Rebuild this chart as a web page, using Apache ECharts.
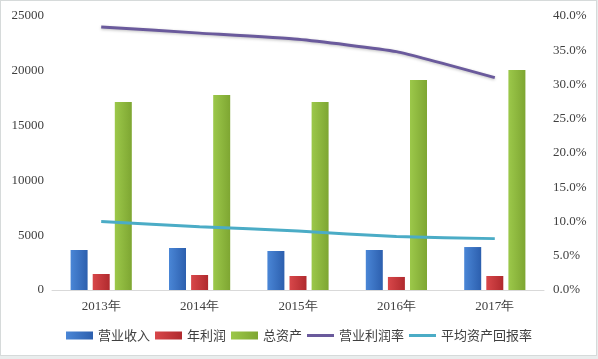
<!DOCTYPE html>
<html><head><meta charset="utf-8">
<script src="https://cdn.jsdelivr.net/npm/echarts@6/dist/echarts.min.js"></script>
<style>
html,body{margin:0;padding:0;background:#e9eded;}
#wrap{position:absolute;left:0;top:0;width:595px;height:354px;background:#fff;border:1px solid #d6dada;}
#c{width:598px;height:359px;position:absolute;left:-1px;top:-1px;}
</style></head>
<body><div id="wrap"><div id="c"></div></div>
<script>
const categories = ['2013年','2014年','2015年','2016年','2017年'];
const revenue = [3650, 3830, 3560, 3650, 3920];
const profit = [1460, 1370, 1280, 1190, 1280];
const assets = [17150, 17790, 17150, 19160, 20070];
const opMargin = [38.4, 37.5, 36.6, 34.8, 31.0];
const roa = [10.0, 9.25, 8.6, 7.8, 7.5];
const leftTicks = [0, 5000, 10000, 15000, 20000, 25000];
const rightTicks = [0, 5, 10, 15, 20, 25, 30, 35, 40];

const chart = echarts.init(document.getElementById('c'));
const font = "'Liberation Serif', serif";
const lg = (a,b)=>new echarts.graphic.LinearGradient(0,0,1,0,[{offset:0,color:a},{offset:1,color:b}]);
const lineIcon = 'path://M0,0h27v3h-27z';
chart.setOption({
  animation:false,
  grid:{left:52,right:54,top:16,bottom:69},
  legend:{
    bottom:12, left:'center', itemWidth:27, itemHeight:8, itemGap:5,
    textStyle:{fontFamily:"'Noto Sans CJK SC'",fontSize:13,color:'#404040'},
    data:[
      {name:'营业收入',icon:'rect'},{name:'年利润',icon:'rect'},{name:'总资产',icon:'rect'},
      {name:'营业利润率',icon:lineIcon},{name:'平均资产回报率',icon:lineIcon}
    ]
  },
  xAxis:{type:'category',data:categories,
    axisLine:{lineStyle:{color:'#d9d9d9'}},axisTick:{show:false},
    axisLabel:{color:'#404040',fontFamily:font,fontSize:13,margin:10}},
  yAxis:[
    {type:'value',min:leftTicks[0],max:leftTicks[leftTicks.length-1],interval:5000,
     splitLine:{show:false},axisLine:{show:false},axisTick:{show:false},
     axisLabel:{color:'#404040',fontFamily:font,fontSize:13,margin:8,formatter:v=>String(v)}},
    {type:'value',min:rightTicks[0],max:rightTicks[rightTicks.length-1],interval:5,
     splitLine:{show:false},axisLine:{show:false},axisTick:{show:false},
     axisLabel:{color:'#404040',fontFamily:font,fontSize:13,margin:9,formatter:v=>v.toFixed(1)+'%'}}
  ],
  series:[
    {name:'营业收入',type:'bar',data:revenue,barWidth:17,barGap:'30%',itemStyle:{color:lg('#4a86d6','#2c5fae')}},
    {name:'年利润',type:'bar',data:profit,barWidth:17,barGap:'30%',itemStyle:{color:lg('#d8474a','#b02a2e')}},
    {name:'总资产',type:'bar',data:assets,barWidth:17,barGap:'30%',itemStyle:{color:lg('#9cc84a','#7ea632')}},
    {name:'营业利润率',type:'line',yAxisIndex:1,data:opMargin,symbol:'none',smooth:0.15,
     lineStyle:{color:'#6a5a9c',width:3,shadowColor:'rgba(0,0,0,0.25)',shadowBlur:3,shadowOffsetY:1},itemStyle:{color:'#6a5a9c'}},
    {name:'平均资产回报率',type:'line',yAxisIndex:1,data:roa,symbol:'none',smooth:0.15,
     lineStyle:{color:'#4bacc6',width:3},itemStyle:{color:'#4bacc6'}}
  ]
});
</script></body></html>
